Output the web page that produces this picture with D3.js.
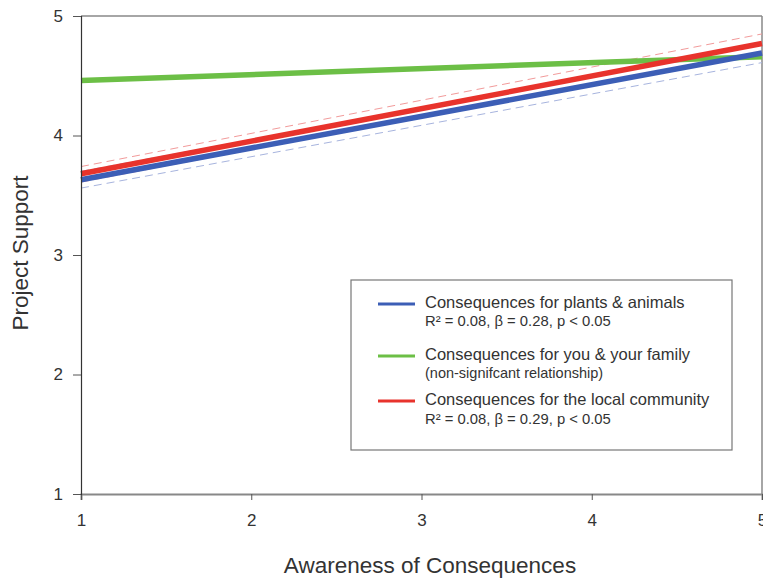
<!DOCTYPE html>
<html><head><meta charset="utf-8">
<script src="https://cdn.jsdelivr.net/npm/d3@7"></script>
<style>body{margin:0;background:#fff}svg{display:block}text{font-family:"Liberation Sans",Arial,sans-serif}</style>
</head><body>
<svg id="c" width="763" height="578"></svg>
<script>
const xTicks = [1, 2, 3, 4, 5];
const yTicks = [1, 2, 3, 4, 5];
const xEnds = [1, 5];
const blueLine = [3.63, 4.69];
const blueLower = [3.56, 4.61];
const blueUpper = [3.70, 4.76];
const greenLine = [4.46, 4.66];
const redLine = [3.68, 4.77];
const redLower = [3.61, 4.70];
const redUpper = [3.74, 4.85];
const legendLabels = ["Consequences for plants & animals", "Consequences for you & your family", "Consequences for the local community"];
const legendSub = ["R\u00b2 = 0.08, \u03b2 = 0.28, p < 0.05", "(non-signifcant relationship)", "R\u00b2 = 0.08, \u03b2 = 0.29, p < 0.05"];

const svg = d3.select("#c");
const x = d3.scaleLinear().domain([1, 5]).range([81, 762]);
const y = d3.scaleLinear().domain([1, 5]).range([494, 16]);

const line = d3.line().x(d => x(d[0])).y(d => y(d[1]));
const pts = arr => xEnds.map((v, i) => [v, arr[i]]);

// frame top / right
svg.append("line").attr("x1", x(1)).attr("x2", x(5)).attr("y1", y(5)).attr("y2", y(5)).attr("stroke", "#888").attr("stroke-width", 1.5);
svg.append("line").attr("x1", x(5)).attr("x2", x(5)).attr("y1", y(5)).attr("y2", y(1)).attr("stroke", "#888").attr("stroke-width", 1.5);

// dashed CIs
[[blueLower, "#a7b4de"], [blueUpper, "#a7b4de"], [redLower, "#f29a9a"], [redUpper, "#f29a9a"]].forEach(([a, c]) => {
  svg.append("path").attr("d", line(pts(a))).attr("fill", "none").attr("stroke", c).attr("stroke-width", 1).attr("stroke-dasharray", "8,5");
});

// main lines
[[greenLine, "#6cbf46"], [blueLine, "#3c5eb6"], [redLine, "#e8332c"]].forEach(([a, c]) => {
  svg.append("path").attr("d", line(pts(a))).attr("fill", "none").attr("stroke", c).attr("stroke-width", 5.5);
});

// axes
const gx = svg.append("g").attr("transform", `translate(0,${y(1)})`)
  .call(d3.axisBottom(x).tickValues(xTicks).tickSize(6).tickPadding(14).tickFormat(d3.format("d")));
gx.select(".domain").attr("stroke", "#888").attr("stroke-width", 2);
gx.selectAll(".tick line").attr("stroke", "#555");
gx.selectAll(".tick text").attr("font-size", 17).attr("fill", "#333");

const gy = svg.append("g").attr("transform", `translate(${x(1)},0)`)
  .call(d3.axisLeft(y).tickValues(yTicks).tickSize(8).tickPadding(10).tickFormat(d3.format("d")));
gy.select(".domain").attr("stroke", "#333").attr("stroke-width", 1.2);
gy.selectAll(".tick line").attr("stroke", "#555");
gy.selectAll(".tick text").attr("font-size", 17).attr("fill", "#333");

// axis titles
svg.append("text").attr("x", 430).attr("y", 573).attr("text-anchor", "middle").attr("font-size", 22.5).attr("fill", "#333").text("Awareness of Consequences");
svg.append("text").attr("transform", "translate(28,253) rotate(-90)").attr("text-anchor", "middle").attr("font-size", 22.5).attr("fill", "#333").text("Project Support");

// legend
const lg = svg.append("g");
lg.append("rect").attr("x", 351).attr("y", 280).attr("width", 381).attr("height", 170).attr("fill", "#fff").attr("stroke", "#777").attr("stroke-width", 1.2);
const lcol = ["#3c5eb6", "#6cbf46", "#e8332c"];
const ly = [304, 356, 401];
const mainBase = [308, 360, 405];
const subBase = [326, 378, 424];
const subSize = [14.8, 14.5, 14.8];
legendLabels.forEach((t, i) => {
  lg.append("line").attr("x1", 378).attr("x2", 415).attr("y1", ly[i]).attr("y2", ly[i]).attr("stroke", lcol[i]).attr("stroke-width", 3);
  lg.append("text").attr("x", 425).attr("y", mainBase[i]).attr("font-size", 16.5).attr("fill", "#333").text(t);
  lg.append("text").attr("x", 425).attr("y", subBase[i]).attr("font-size", subSize[i]).attr("fill", "#333").text(legendSub[i]);
});
</script>
</body></html>
